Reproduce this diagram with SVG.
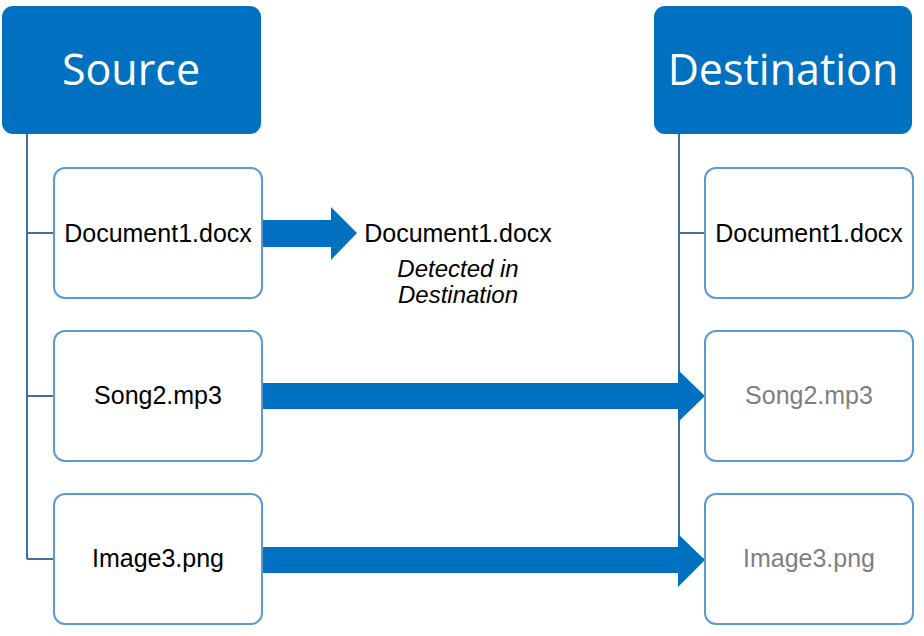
<svg xmlns="http://www.w3.org/2000/svg" width="924" height="636" viewBox="0 0 924 636">
<style>
.hdr{fill:#0070C0}
.hdrt{fill:#fff;font-family:"Open Sans","Noto Sans",sans-serif;font-size:43px;text-anchor:middle}
.box{fill:#fff;stroke:#5B9BD5;stroke-width:2}
.t{font-family:"Liberation Sans",Arial,sans-serif;font-size:25px;text-anchor:middle;fill:#000}
.g{fill:#7F7F7F}
.it{font-style:italic;font-size:24px}
.tree{stroke:#41719C;stroke-width:2;fill:none}
.arr{fill:#0070C0}
</style>
<rect width="924" height="636" fill="#fff"/>
<g id="connectors">
<path class="tree" d="M27 134V559M27 233H54M27 396H54M27 559H54"/>
<path class="tree" d="M679 134V559M679 233H704M679 396H704M679 559H704"/>
<polygon class="arr" points="262,220 331,220 331,207 357,233 331,260 331,247 262,247"/>
<polygon class="arr" points="262,383 678,383 678,370 705,396 678,422 678,409 262,409"/>
<polygon class="arr" points="262,547 678,547 678,534 705,560 678,587 678,573 262,573"/>
</g>
<g id="source">
<rect class="hdr" x="2" y="6" width="259" height="128" rx="11"/>
<text class="hdrt" x="131" y="85">Source</text>
</g>
<g id="destination">
<rect class="hdr" x="654" y="6" width="258" height="128" rx="11"/>
<text class="hdrt" x="783" y="85">Destination</text>
</g>
<g id="src-doc">
<rect class="box" x="54" y="168" width="208" height="130" rx="11"/>
<text class="t" x="158" y="242">Document1.docx</text>
</g>
<g id="src-song">
<rect class="box" x="54" y="331" width="208" height="130" rx="11"/>
<text class="t" x="158" y="404">Song2.mp3</text>
</g>
<g id="src-image">
<rect class="box" x="54" y="494" width="208" height="130" rx="11"/>
<text class="t" x="158" y="567">Image3.png</text>
</g>
<g id="detected">
<text class="t" x="458" y="242">Document1.docx</text>
<text class="t it" x="458" y="277">Detected in</text>
<text class="t it" x="458" y="303">Destination</text>
</g>
<g id="dst-doc">
<rect class="box" x="705" y="168" width="208" height="130" rx="11"/>
<text class="t" x="809" y="242">Document1.docx</text>
</g>
<g id="dst-song">
<rect class="box" x="705" y="331" width="208" height="130" rx="11"/>
<text class="t g" x="809" y="404">Song2.mp3</text>
</g>
<g id="dst-image">
<rect class="box" x="705" y="494" width="208" height="130" rx="11"/>
<text class="t g" x="809" y="567">Image3.png</text>
</g>
</svg>
